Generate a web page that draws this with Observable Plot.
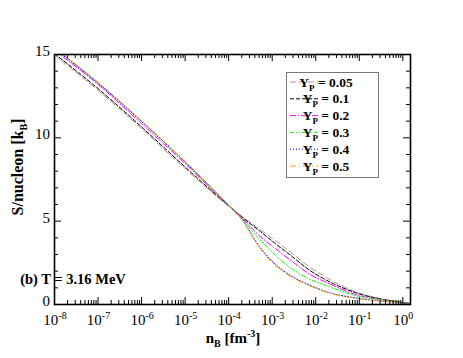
<!DOCTYPE html>
<html><head><meta charset="utf-8">
<script src="https://cdn.jsdelivr.net/npm/d3@7"></script>
<script src="https://cdn.jsdelivr.net/npm/@observablehq/plot@0.6"></script>
<style>
body{margin:0;background:#fff}
svg text, svg tspan{font-family:"Liberation Serif","Times New Roman","DejaVu Serif",serif !important}
</style>
</head><body><div id="chart"></div>
<script>
// Baryon density (fm^-3)
const nB = [1e-8, 1e-7, 1e-6, 1e-5, 1e-4, 2e-4, 5e-4, 1.2e-3, 3e-3, 7e-3, 1.7e-2, 1e-1, 6e-1, 1.5];
// Entropy per nucleon (k_B) for each proton fraction
const S_005 = [14.95, 12.85, 10.55, 8.15, 5.90, 5.30, 4.54, 3.82, 3.03, 2.28, 1.64, 0.68, 0.22, 0.06];
const S_01  = [15.05, 12.95, 10.65, 8.25, 5.92, 5.25, 4.44, 3.64, 2.84, 2.08, 1.48, 0.64, 0.20, 0.06];
const S_02  = [15.25, 13.20, 10.85, 8.45, 5.93, 5.20, 4.14, 3.34, 2.54, 1.84, 1.34, 0.54, 0.20, 0.05];
const S_03  = [15.40, 13.30, 11.00, 8.55, 5.95, 5.15, 3.94, 2.94, 2.10, 1.54, 1.14, 0.48, 0.20, 0.05];
const S_04  = [15.35, 13.28, 10.98, 8.55, 5.95, 5.12, 3.50, 2.40, 1.65, 1.18, 0.78, 0.36, 0.15, 0.05];
const S_05  = [15.40, 13.33, 11.02, 8.58, 5.95, 5.10, 3.44, 2.34, 1.60, 1.14, 0.74, 0.34, 0.14, 0.05];

const seriesLabels = ["0.05", "0.1", "0.2", "0.3", "0.4", "0.5"];
const xTickExps = [-8, -7, -6, -5, -4, -3, -2, -1, 0];
const yTickLabels = [0, 5, 10, 15];
const annotation = "(b) T = 3.16 MeV";

// styles
const FONT = '"Liberation Serif", "Times New Roman", "DejaVu Serif", serif';
const seriesColors = ["#bc8f8f", "#000000", "#ff00ff", "#00ff00", "#0000ff", "#ffa500"];
const seriesDash = ["6,3", "4,2", "6,2,1,2", "4,2,1,2,1,2", "1,2", "6,3,1,3"];
const series = [S_005, S_01, S_02, S_03, S_04, S_05];

const W = 463, H = 358, mt = 54, mb = 54, ml = 54, mr = 53;
const ph = H - mt - mb, pw = W - ml - mr;

const majorX = xTickExps.map(e => Math.pow(10, e));
const minorX = [];
for (let e = -8; e < 0; e++) for (let m = 2; m <= 9; m++) minorX.push(m * Math.pow(10, e));
const majorY = [0, 5, 10, 15];
const minorY = d3.range(0, 16).filter(v => v % 5 !== 0);

const lineMarks = series.map((s, i) =>
  Plot.line(nB.map((n, j) => ({n, S: s[j]})), {
    x: "n", y: "S", stroke: seriesColors[i], strokeWidth: 1,
    strokeDasharray: seriesDash[i], curve: "monotone-x", clip: true
  })
);

const chart = Plot.plot({
  width: W, height: H,
  marginTop: mt, marginBottom: mb, marginLeft: ml, marginRight: mr,
  style: {fontFamily: FONT, background: "#fff", overflow: "visible"},
  x: {type: "log", domain: [1e-8, 1.5], axis: null},
  y: {domain: [0, 15], axis: null},
  marks: [
    ...lineMarks,
    Plot.tickX(majorX, {x: d => d, insetTop: ph - 7, strokeWidth: 1}),
    Plot.tickX(majorX, {x: d => d, insetBottom: ph - 7, strokeWidth: 1}),
    Plot.tickX(minorX, {x: d => d, insetTop: ph - 4, strokeWidth: 1}),
    Plot.tickX(minorX, {x: d => d, insetBottom: ph - 4, strokeWidth: 1}),
    Plot.tickY(majorY, {y: d => d, insetRight: pw - 7, strokeWidth: 1}),
    Plot.tickY(majorY, {y: d => d, insetLeft: pw - 7, strokeWidth: 1}),
    Plot.tickY(minorY, {y: d => d, insetRight: pw - 4, strokeWidth: 1}),
    Plot.tickY(minorY, {y: d => d, insetLeft: pw - 4, strokeWidth: 1}),
    Plot.frame({stroke: "#000", strokeWidth: 1.6})
  ]
});

document.getElementById("chart").appendChild(chart);
const svg = d3.select(chart);
const xs = chart.scale("x"), ys = chart.scale("y");
const g = svg.append("g").attr("fill", "#000").style("font-family", FONT);

// x tick labels
xTickExps.forEach(e => {
  const t = g.append("text").attr("x", xs.apply(Math.pow(10, e)) + 1).attr("y", 325)
    .attr("text-anchor", "middle").attr("font-size", 15);
  t.append("tspan").text("10");
  t.append("tspan").attr("dy", -6).attr("font-size", 10).text(String(e));
});
// y tick labels
yTickLabels.forEach(v => {
  g.append("text").attr("x", 50).attr("y", ys.apply(v) + 2)
    .attr("text-anchor", "end").attr("font-size", 15).text(String(v));
});
// x title
{
  const t = g.append("text").attr("x", 233).attr("y", 343).attr("text-anchor", "middle")
    .attr("font-size", 15).attr("font-weight", "bold");
  t.append("tspan").text("n");
  t.append("tspan").attr("dy", 4).attr("font-size", 10).text("B");
  t.append("tspan").attr("dy", -4).text(" [fm");
  t.append("tspan").attr("dy", -6).attr("font-size", 10).text("-3");
  t.append("tspan").attr("dy", 6).text("]");
}
// y title
{
  const t = g.append("text").attr("transform", "translate(23,167) rotate(-90)")
    .attr("text-anchor", "middle").attr("font-size", 16).attr("font-weight", "bold");
  t.append("tspan").text("S/nucleon [k");
  t.append("tspan").attr("dy", 4).attr("font-size", 10).text("B");
  t.append("tspan").attr("dy", -4).text("]");
}
// annotation
g.append("text").attr("x", 73).attr("y", 284).attr("font-size", 14.5)
  .attr("font-weight", "bold").text(annotation);

// legend
const lg = svg.append("g").style("font-family", FONT);
lg.append("rect").attr("x", 286.5).attr("y", 72.5).attr("width", 92).attr("height", 105)
  .attr("fill", "#fff").attr("stroke", "#777").attr("stroke-width", 1);
seriesLabels.forEach((lab, i) => {
  const yy = 82 + i * 16.8;
  lg.append("line").attr("x1", 290).attr("x2", 318).attr("y1", yy).attr("y2", yy)
    .attr("stroke", seriesColors[i]).attr("stroke-dasharray", seriesDash[i]).attr("stroke-width", 1);
  const t = lg.append("text").attr("x", 326).attr("y", yy + 4.5).attr("font-size", 13.5)
    .attr("font-weight", "bold");
  t.append("tspan").text("Y");
  t.append("tspan").attr("dy", 4).attr("font-size", 9).text("P");
  t.append("tspan").attr("dy", -4).text(" = " + lab);
});
</script>
</body></html>
